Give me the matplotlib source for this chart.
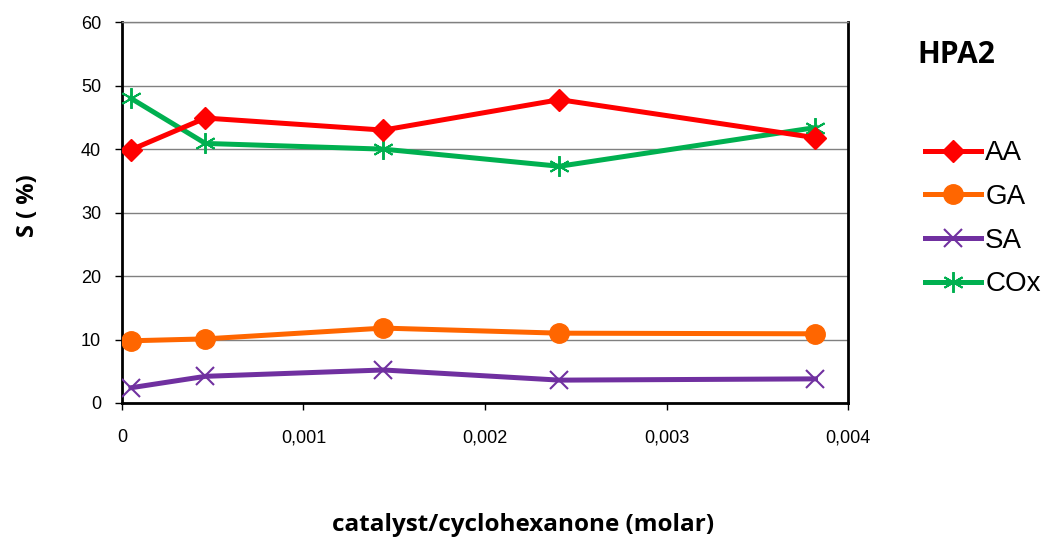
import matplotlib
matplotlib.use('Agg')
import matplotlib.pyplot as plt
from matplotlib.ticker import FuncFormatter

# data
ratio = [0.00005, 0.00046, 0.00144, 0.00241, 0.00382]
aa = [39.9, 44.9, 43.0, 47.8, 41.8]
ga = [9.8, 10.1, 11.8, 11.0, 10.9]
sa = [2.4, 4.2, 5.2, 3.6, 3.8]
cox = [48.0, 40.9, 40.0, 37.3, 43.4]
series_names = ['AA', 'GA', 'SA', 'COx']
x_ticks = [0, 0.001, 0.002, 0.003, 0.004]
y_ticks = [0, 10, 20, 30, 40, 50, 60]

plt.rcParams['font.family'] = ['Liberation Sans', 'DejaVu Sans']

fig = plt.figure(figsize=(10.51, 5.42), dpi=100)
ax = fig.add_axes([0.116, 0.2565, 0.691, 0.7025])

lw = 3.6
l1, = ax.plot(ratio, aa, color='#FF0000', lw=lw, marker='D', markersize=11, zorder=5)
l2, = ax.plot(ratio, ga, color='#FF6600', lw=lw, marker='o', markersize=14, zorder=4)
l3, = ax.plot(ratio, sa, color='#7030A0', lw=lw, marker='x', markersize=13,
              markeredgewidth=1.5, zorder=3)
l4, = ax.plot(ratio, cox, color='#00B050', lw=lw, marker=(6, 2, 0), markersize=15,
              markeredgewidth=1.4, zorder=4)

ax.set_xlim(0, 0.004)
ax.set_ylim(0, 60)
ax.set_xticks(x_ticks)
ax.set_yticks(y_ticks)
ax.xaxis.set_major_formatter(FuncFormatter(
    lambda v, p: '0' if v == 0 else f'{v:.3f}'.replace('.', ',')))
ax.yaxis.grid(True, color='#808080', lw=1)
ax.set_axisbelow(True)
ax.tick_params(axis='both', labelsize=13, length=5, width=1, colors='black')
ax.tick_params(axis='y', pad=10)
ax.tick_params(axis='x', pad=14)

for s in ['left', 'bottom', 'right']:
    ax.spines[s].set_linewidth(2)
    ax.spines[s].set_color('black')
ax.spines['top'].set_color('#808080')
ax.spines['top'].set_linewidth(1)

bold_fam = ['Open Sans', 'DejaVu Sans']
fig.text(0.027, 0.62, 'S ( %)', rotation=90, fontsize=17, fontweight='bold',
         ha='center', va='center', family=bold_fam)
fig.text(0.498, 0.031, 'catalyst/cyclohexanone (molar)', fontsize=17.5, fontweight='bold',
         ha='center', va='center', family=bold_fam)
fig.text(0.910, 0.899, 'HPA2', fontsize=21.5, fontweight='bold', ha='center', va='center',
         family=bold_fam)

fig.legend([l1, l2, l3, l4], series_names, loc='upper left',
           bbox_to_anchor=(0.8805, 0.741), frameon=False, fontsize=20,
           handlelength=2.0, handletextpad=0.15, labelspacing=0.635,
           borderaxespad=0, borderpad=0)

fig.savefig('out.png', dpi=100)
